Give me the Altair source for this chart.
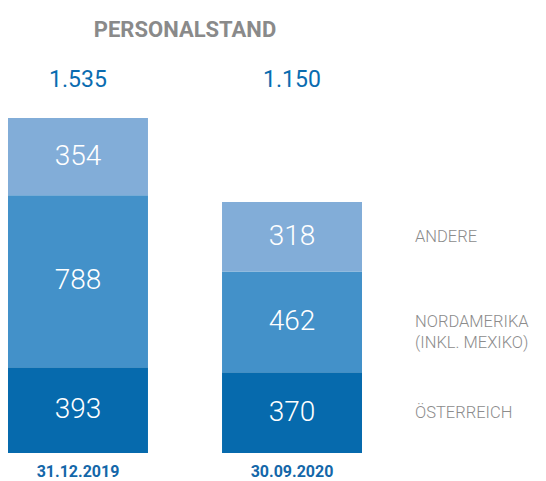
import altair as alt
import pandas as pd

dates = ["31.12.2019", "30.09.2020"]
regions = ["ÖSTERREICH", "NORDAMERIKA\n(INKL. MEXIKO)", "ANDERE"]
oesterreich = [393, 370]
nordamerika = [788, 462]
andere = [354, 318]
totals = ["1.535", "1.150"]
colors = ["#066aad", "#4391c9", "#82add8"]

FONT = "Roboto, sans-serif"

rows = []
for i, d in enumerate(dates):
    for j, (r, vals) in enumerate(zip(regions, [oesterreich, nordamerika, andere])):
        rows.append({"date": d, "region": r, "value": vals[i], "order": j, "total": totals[i]})
df = pd.DataFrame(rows)

base = alt.Chart(df).transform_stack(
    stack="value", groupby=["date"], as_=["y0", "y1"], sort=[alt.SortField("order")]
).transform_calculate(mid="(datum.y0 + datum.y1) / 2")

x = alt.X(
    "date:N", sort=dates,
    scale=alt.Scale(paddingInner=0.346, paddingOuter=0),
    axis=alt.Axis(title=None, domain=False, ticks=False, labelAngle=0,
                  labelFont=FONT, labelFontWeight="bold", labelFontSize=16,
                  labelColor="#1467a9", labelPadding=10),
)
yscale = alt.Scale(domain=[0, 1535], nice=False, zero=True)

bars = base.mark_bar().encode(
    x=x,
    y=alt.Y("y0:Q", scale=yscale, axis=None),
    y2="y1:Q",
    color=alt.Color("region:N", scale=alt.Scale(domain=regions, range=colors), legend=None),
)

inner = base.mark_text(color="white", font=FONT, fontWeight=300, fontSize=28,
                       baseline="middle").encode(
    x=x, y=alt.Y("mid:Q", scale=yscale, axis=None), text="value:Q"
)

tot = base.transform_filter("datum.order == 0").mark_text(
    color="#0a6cb0", font=FONT, fontSize=23, baseline="middle"
).encode(x=x, y=alt.value(-38), text="total:N")

legend = base.transform_filter(alt.datum.date == dates[-1]).mark_text(
    align="left", dx=123, lineBreak="\n", lineHeight=21, baseline="middle",
    font=FONT, fontWeight=300, fontSize=16.5, color="#8c8c8c"
).encode(x=x, y=alt.Y("mid:Q", scale=yscale, axis=None), text="region:N")

chart = alt.layer(bars, inner, tot, legend).properties(
    width=354, height=335,
    title=alt.Title("PERSONALSTAND", font=FONT, fontWeight="bold", fontSize=22,
                    color="#8a8a8a", anchor="middle", offset=27),
    autosize=alt.AutoSizeParams(type="none"),
    padding={"left": 0, "top": 110, "right": 176, "bottom": 28},
).configure_view(stroke=None)

chart.save("out.html", embed_options={"renderer": "svg", "actions": False})
